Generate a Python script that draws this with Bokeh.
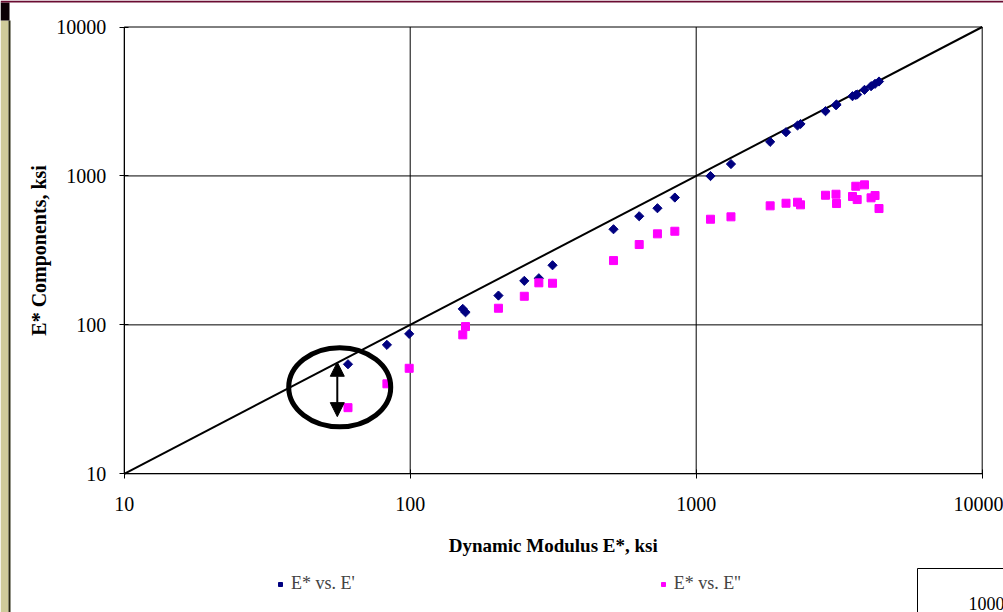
import math
from bokeh.plotting import figure
from bokeh.models import (Range1d, FixedTicker, PrintfTickFormatter, Legend, LegendItem,
                          Arrow, NormalHead, Label, BoxAnnotation)
from bokeh.embed import file_html
from bokeh.resources import INLINE

# ---- data (ksi) ----
e_star = [60.6, 82.9, 99.2, 152.7, 156.1, 203.5, 250.6, 281.7, 314.5, 513.9, 632, 732, 842,
          1122, 1323, 1814, 2061, 2261, 2316, 2832, 3082, 3095, 3520, 3614, 3655, 3877, 4087, 4220, 4357]
e_storage = [54.4, 73.4, 87.0, 128.0, 121.5, 157.3, 197.5, 205.6, 251.3, 438.5, 536.2, 607.0, 716,
             998, 1202, 1694, 1966, 2180, 2232, 2720, 2984, 3017, 3430, 3494, 3522, 3786, 4004, 4154, 4305]
e_loss = [27.8, 40.2, 51.1, 85.7, 97.4, 129.3, 155.6, 191.5, 190.3, 270.2, 346.2, 408.5, 425.2,
          512, 531.3, 629.9, 655.7, 665.9, 639.6, 742, 753.6, 652.6, 727.3, 852.6, 694, 871.3, 712.8, 738.5, 604]
equality_x = [10, 10000]
equality_y = [10, 10000]
tick_values = [10, 100, 1000, 10000]
x_title = "Dynamic Modulus E*, ksi"
y_title = "E* Components, ksi"
series_names = ["E* vs. E'", "E* vs. E''"]
corner_text = "1000"

# annotation (circled gap at the low-modulus end)
circle_x, circle_y = 56.7, 38.1
arrow_x, arrow_top, arrow_bottom = 55.6, 56.1, 24.2

# ---- layout (pixels) ----
W, H = 1003, 612
AX_LEFT, AX_RIGHT = 123.7, 981.7      # x = 10 .. 10000
AX_TOP, AX_BOTTOM = 26.5, 473.3       # y = 10000 .. 10
lo, hi = tick_values[0], tick_values[-1]
dec = math.log10(hi) - math.log10(lo)
px_dec_x = (AX_RIGHT - AX_LEFT) / dec
px_dec_y = (AX_BOTTOM - AX_TOP) / dec
x_start = 10 ** (math.log10(lo) - AX_LEFT / px_dec_x)
x_end = 10 ** (math.log10(hi) + (W - AX_RIGHT) / px_dec_x)
y_start = 10 ** (math.log10(lo) - (H - AX_BOTTOM) / px_dec_y)
y_end = 10 ** (math.log10(hi) + AX_TOP / px_dec_y)

FONT = "Liberation Serif"

p = figure(width=W, height=H, x_axis_type="log", y_axis_type="log",
           x_range=Range1d(x_start, x_end), y_range=Range1d(y_start, y_end),
           output_backend="svg", toolbar_location=None,
           min_border=0, min_border_left=0, min_border_right=0,
           min_border_top=0, min_border_bottom=0,
           background_fill_color="white", border_fill_color="white")
p.outline_line_color = None
p.grid.visible = False

for ax in (p.xaxis[0], p.yaxis[0]):
    ax.fixed_location = lo
    ax.bounds = (lo, hi)
    ax.ticker = FixedTicker(ticks=tick_values, minor_ticks=[])
    ax.formatter = PrintfTickFormatter(format="%d")
    ax.major_label_text_font = FONT
    ax.major_label_text_font_size = "20px"
    ax.major_label_text_color = "black"
    ax.axis_label = None
    ax.axis_line_color = "black"
    ax.major_tick_line_color = "black"
    ax.major_tick_in = 4
    ax.major_tick_out = 5
    ax.minor_tick_line_color = None
p.xaxis.major_label_standoff = 18
p.yaxis.major_label_standoff = 13

# grid / plot-area border at the decade ticks
n = len(tick_values)
p.segment(x0=tick_values, y0=[lo] * n, x1=tick_values, y1=[hi] * n,
          line_color="black", line_width=1)
p.segment(x0=[lo] * n, y0=tick_values, x1=[hi] * n, y1=tick_values,
          line_color="black", line_width=1)

p.line(equality_x, equality_y, line_color="black", line_width=2)

r1 = p.scatter(e_star, e_storage, marker="square", angle=math.pi / 4, size=6.5,
               fill_color="#000080", line_color="#000080")
r2 = p.scatter(e_star, e_loss, marker="square", size=8,
               fill_color="#FF00FF", line_color="#FF00FF")

p.ellipse(x=[circle_x], y=[circle_y], width=102, height=79,
          width_units="screen", height_units="screen",
          fill_alpha=0, line_color="black", line_width=5)

p.add_layout(Arrow(x_start=arrow_x, y_start=arrow_bottom, x_end=arrow_x, y_end=arrow_top,
                   line_color="black", line_width=2,
                   start=NormalHead(size=14, fill_color="black", line_color="black"),
                   end=NormalHead(size=14, fill_color="black", line_color="black")))

# axis titles
p.add_layout(Label(x=(AX_LEFT + AX_RIGHT) / 2, y=H - 545, x_units="screen", y_units="screen",
                   text=x_title, text_font=FONT, text_font_size="19px", text_font_style="bold",
                   text_align="center", text_baseline="middle", text_color="black"))
p.add_layout(Label(x=38.5, y=H - (AX_TOP + AX_BOTTOM) / 2, x_units="screen", y_units="screen",
                   angle=math.pi / 2, text=y_title, text_font=FONT, text_font_size="20px",
                   text_font_style="bold", text_align="center", text_baseline="middle",
                   text_color="black"))

# series legend
legend = Legend(items=[LegendItem(label=series_names[0], renderers=[r1]),
                       LegendItem(label=series_names[1], renderers=[r2])],
                orientation="horizontal", location=(275, H - 594),
                spacing=303, padding=0, margin=0, glyph_width=10, glyph_height=10,
                label_standoff=6, label_text_font=FONT, label_text_font_size="18px",
                border_line_color=None, background_fill_alpha=0)
p.add_layout(legend, "center")


def box(l, r, b, t, color, line=None):
    p.add_layout(BoxAnnotation(left=l, right=r, bottom=b, top=t,
                               left_units="screen", right_units="screen",
                               bottom_units="screen", top_units="screen",
                               fill_color=color, fill_alpha=1,
                               line_color=line, line_width=1, line_alpha=1))


# partial box of a neighbouring element at bottom right
box(917, W + 20, -20, H - 568, "white", line="black")
p.add_layout(Label(x=968, y=H - 603, x_units="screen", y_units="screen", text=corner_text,
                   text_font=FONT, text_font_size="18px", text_baseline="middle",
                   text_align="left", text_color="black"))

# slide frame decorations at the left / top edge
box(0, 8, 0, H - 20, "#CFCB9A")
box(8, 10, 0, H - 20, "#2B2B12")
box(0, 9, H - 20, H - 2, "#0A0005")
box(0, W, H - 2, H, "#6A0C32")

open("out.html", "w").write(file_html(p, INLINE))
